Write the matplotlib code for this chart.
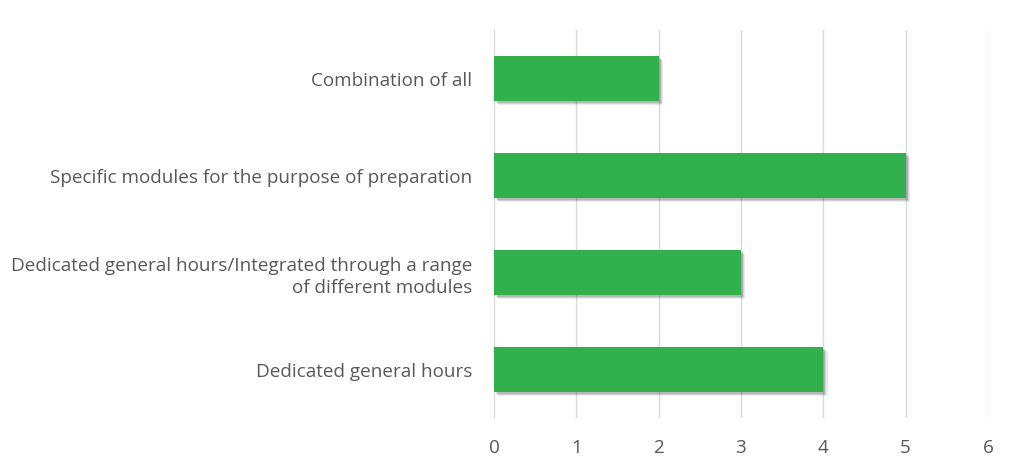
import matplotlib
matplotlib.use("Agg")
import matplotlib.pyplot as plt
import matplotlib.patheffects as pe

categories = [
    "Dedicated general hours",
    "Dedicated general hours/Integrated through a range\nof different modules",
    "Specific modules for the purpose of preparation",
    "Combination of all",
]
values = [4, 3, 5, 2]
x_ticks = [0, 1, 2, 3, 4, 5, 6]

plt.rcParams["font.family"] = ["Open Sans", "DejaVu Sans"]

fig = plt.figure(figsize=(10.09, 4.58), dpi=100)
ax = fig.add_axes([0.4896, 0.0873, 0.4896, 0.8472])

bars = ax.barh(range(len(categories)), values, height=0.46, color="#33b04e", zorder=3)
# soft drop shadow built from a few offset translucent layers
shadow = [
    pe.SimplePatchShadow(offset=(o, -o), alpha=a, shadow_rgbFace="#404040")
    for o, a in [(3.0, 0.10), (2.2, 0.14), (1.5, 0.18)]
]
for b in bars:
    b.set_path_effects(shadow + [pe.Normal()])

ax.set_xlim(0, 6)
ax.set_ylim(-0.5, len(categories) - 0.5)
ax.set_xticks(x_ticks)
ax.set_xticklabels([str(t) for t in x_ticks])
ax.set_yticks(range(len(categories)))
ax.set_yticklabels(categories, ha="right", multialignment="right", linespacing=1.3)

ax.grid(axis="x", color="#d9d9d9", linewidth=1, zorder=0)
ax.grid(axis="y", visible=False)
for s in ax.spines.values():
    s.set_visible(False)
ax.tick_params(axis="both", length=0, labelsize=13.6, colors="#595959")
ax.tick_params(axis="x", pad=15)
ax.tick_params(axis="y", pad=15.5)

fig.savefig("out.png", dpi=100, facecolor="white")
